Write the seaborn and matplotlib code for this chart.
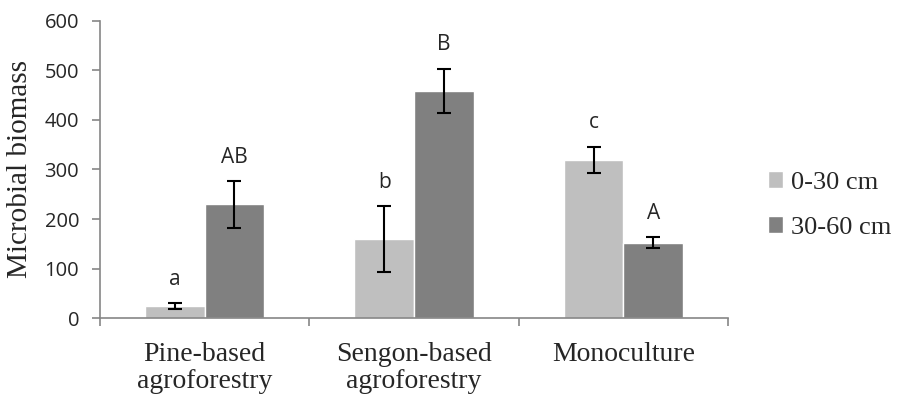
import matplotlib
matplotlib.use('Agg')
import matplotlib.pyplot as plt
import pandas as pd
import seaborn as sns

# dados
sistemas = ['Pine-based\nagroforestry', 'Sengon-based\nagroforestry', 'Monoculture']
profundidades = ['0-30 cm', '30-60 cm']
biomassa_0_30 = [25, 160, 319]
biomassa_30_60 = [230, 458, 152]
erro_0_30 = [6, 66, 27]
erro_30_60 = [47, 45, 11]
letras_0_30 = ['a', 'b', 'c']
letras_30_60 = ['AB', 'B', 'A']

df = pd.DataFrame({
    'sistema': sistemas * 2,
    'profundidade': [profundidades[0]] * 3 + [profundidades[1]] * 3,
    'biomassa': biomassa_0_30 + biomassa_30_60,
    'erro': erro_0_30 + erro_30_60,
    'letra': letras_0_30 + letras_30_60,
})

sns.set_theme(style='white')
cinza = '#868686'

fig = plt.figure(figsize=(9, 4.03), dpi=100)
ax = fig.add_axes([0.111, 0.21, 0.698, 0.739])

sns.barplot(data=df, x='sistema', y='biomassa', hue='profundidade',
            palette=['#BFBFBF', '#808080'], width=0.57, errorbar=None,
            saturation=1, ax=ax)

# barras de erro e letras
for cont, prof in zip(ax.containers, profundidades):
    sub = df[df['profundidade'] == prof]
    for barra, (_, linha) in zip(cont, sub.iterrows()):
        xc = barra.get_x() + barra.get_width() / 2
        ax.errorbar(xc, linha['biomassa'], yerr=linha['erro'], fmt='none',
                    ecolor='black', elinewidth=1.5, capsize=5, capthick=1.5)
        ax.text(xc, linha['biomassa'] + linha['erro'] + 48, linha['letra'],
                ha='center', va='center', fontsize=15, family='Open Sans')

ax.set_ylim(0, 600)
ax.set_xlim(-0.5, 2.5)
ax.set_yticks(range(0, 601, 100))
ax.set_xticks([-0.5, 0.5, 1.5, 2.5])
ax.set_xticklabels([])
ax.set_xticks([0, 1, 2], minor=True)
ax.set_xticklabels(sistemas, minor=True, family='Liberation Serif', fontsize=20,
                   linespacing=1.1, va='top')
ax.tick_params(axis='x', which='minor', length=0, pad=17)
ax.tick_params(axis='x', which='major', length=6, width=1.2, color=cinza, direction='out')
ax.tick_params(axis='y', length=6, width=1.2, color=cinza, direction='out',
               labelsize=14.5, pad=9)
for t in ax.get_yticklabels():
    t.set_family('Open Sans')
ax.tick_params(bottom=True, left=True)

ax.set_xlabel('')
ax.set_ylabel('Microbial biomass', family='Liberation Serif', fontsize=21, labelpad=8)

for lado in ['top', 'right']:
    ax.spines[lado].set_visible(False)
for lado in ['left', 'bottom']:
    ax.spines[lado].set_color(cinza)
    ax.spines[lado].set_linewidth(1.2)

ax.legend(loc='center left', bbox_to_anchor=(1.025, 0.38), frameon=False,
          prop={'family': 'Liberation Serif', 'size': 19}, handlelength=0.6,
          handleheight=0.6, handletextpad=0.3, labelspacing=0.85)

fig.savefig('out.png', dpi=100)
